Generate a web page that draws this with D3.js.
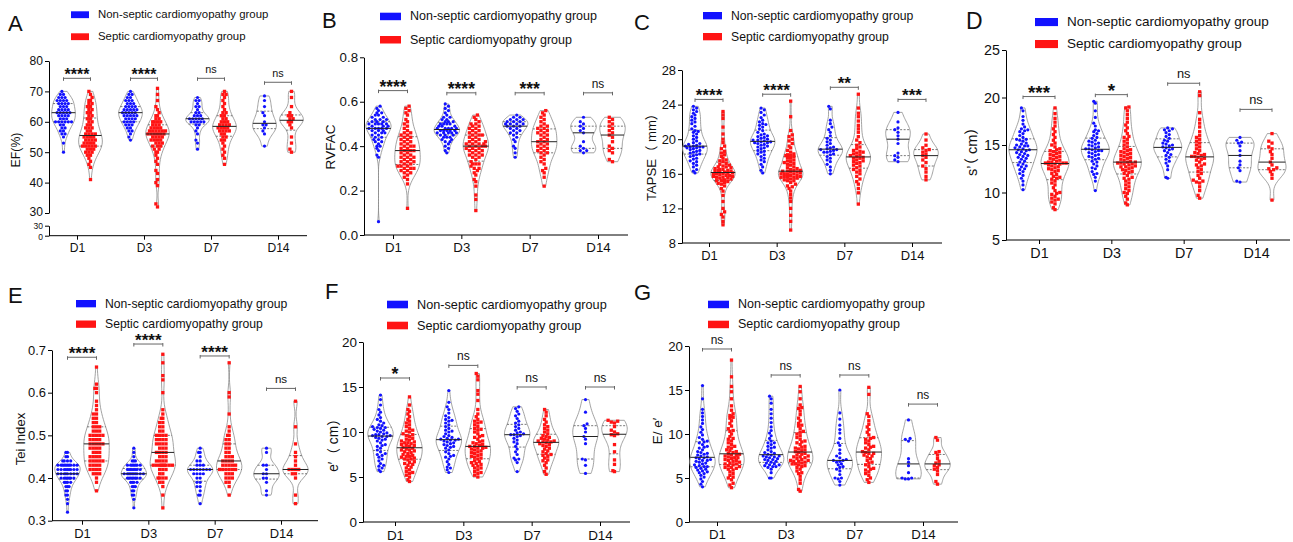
<!DOCTYPE html>
<html>
<head>
<meta charset="utf-8">
<script src="https://cdn.jsdelivr.net/npm/d3@7"></script>
<style>
  body { margin: 0; background: #fff; }
  svg { display: block; }
  text { font-family: "Liberation Sans", Arial, "Noto Sans CJK SC", sans-serif; fill: #111; }
</style>
</head>
<body>
<div id="chart"></div>
<script>
// Violin plots of echo parameters, non-septic vs septic cardiomyopathy, D1..D14

const days = ["D1", "D3", "D7", "D14"];
const groupNames = ["Non-septic cardiomyopathy group", "Septic cardiomyopathy group"];
const groupColors = ["#1212ff", "#ff1414"];

// A: EF (%)
const efNon = [
  [50, 53, 55, 56, 56, 57, 57, 58, 58, 59, 59, 60, 60, 60, 60, 60, 61, 61, 61, 62, 62, 62, 63, 63, 63, 63, 63, 64, 64, 64, 64, 65, 65, 65, 66, 66, 66, 66, 67, 67, 67, 67, 68, 68, 68, 69, 69, 70, 60, 62],
  [54, 55, 56, 57, 57, 58, 58, 59, 59, 60, 60, 60, 61, 61, 61, 61, 62, 62, 62, 62, 62, 63, 63, 63, 63, 64, 64, 64, 64, 65, 65, 65, 65, 66, 66, 66, 67, 67, 67, 68, 68, 69, 69, 70, 59, 60, 63, 64],
  [51, 53, 54, 56, 57, 58, 59, 59, 60, 60, 60, 60, 61, 61, 61, 61, 61, 62, 62, 62, 63, 63, 64, 65, 65, 66, 67, 67, 68, 60],
  [52, 56, 57, 58, 59, 59, 60, 62, 63, 65, 67, 68.5]
];
const efSep = [
  [41, 45, 46, 47, 48, 49, 49, 50, 50, 51, 51, 51, 52, 52, 52, 52, 53, 53, 53, 54, 54, 54, 55, 55, 55, 55, 56, 56, 56, 57, 57, 58, 58, 59, 59, 60, 60, 61, 61, 62, 62, 63, 63, 64, 64, 65, 65, 66, 66, 67, 67, 68, 69, 70, 52, 54, 50, 53, 56, 58],
  [32, 33, 39, 40, 41, 43, 44, 46, 47, 48, 49, 50, 50, 51, 51, 52, 52, 53, 53, 54, 54, 54, 55, 55, 55, 56, 56, 56, 56, 57, 57, 57, 57, 57, 58, 58, 58, 59, 59, 59, 60, 60, 60, 61, 61, 62, 62, 63, 64, 65, 67, 69, 71, 55, 56, 58, 54, 53, 57, 60, 52, 56],
  [46, 48, 49, 50, 51, 52, 53, 54, 54, 55, 55, 56, 56, 57, 57, 57, 58, 58, 58, 59, 59, 59, 59, 60, 60, 60, 61, 61, 62, 62, 63, 63, 64, 65, 66, 67, 68, 69, 69, 70, 58, 57],
  [50, 51, 53, 55, 58, 59, 60, 60, 61, 61, 62, 62, 63, 65, 68, 70]
];
const efSig = ["****", "****", "ns", "ns"];
const efTicks = [30, 40, 50, 60, 70, 80];

// B: RVFAC
const rvfacNon = [
  [0.06, 0.35, 0.36, 0.38, 0.39, 0.40, 0.41, 0.42, 0.42, 0.43, 0.44, 0.44, 0.45, 0.45, 0.46, 0.46, 0.46, 0.47, 0.47, 0.47, 0.48, 0.48, 0.48, 0.48, 0.49, 0.49, 0.49, 0.50, 0.50, 0.50, 0.50, 0.51, 0.51, 0.51, 0.52, 0.52, 0.52, 0.53, 0.53, 0.54, 0.54, 0.55, 0.55, 0.56, 0.57, 0.58, 0.40, 0.43, 0.48, 0.50],
  [0.37, 0.38, 0.39, 0.40, 0.41, 0.42, 0.43, 0.43, 0.44, 0.44, 0.45, 0.45, 0.45, 0.46, 0.46, 0.46, 0.46, 0.47, 0.47, 0.47, 0.47, 0.47, 0.48, 0.48, 0.48, 0.48, 0.49, 0.49, 0.49, 0.50, 0.50, 0.50, 0.51, 0.51, 0.51, 0.52, 0.52, 0.53, 0.53, 0.54, 0.55, 0.56, 0.57, 0.58, 0.59, 0.44, 0.48, 0.50, 0.46, 0.42],
  [0.35, 0.37, 0.39, 0.40, 0.42, 0.43, 0.44, 0.45, 0.46, 0.46, 0.47, 0.47, 0.48, 0.48, 0.49, 0.49, 0.49, 0.50, 0.50, 0.50, 0.51, 0.51, 0.51, 0.52, 0.52, 0.52, 0.53, 0.53, 0.54, 0.50],
  [0.37, 0.38, 0.38, 0.39, 0.40, 0.42, 0.46, 0.47, 0.48, 0.49, 0.50, 0.51, 0.53]
];
const rvfacSep = [
  [0.12, 0.23, 0.25, 0.26, 0.27, 0.28, 0.29, 0.29, 0.30, 0.30, 0.31, 0.31, 0.31, 0.32, 0.32, 0.33, 0.33, 0.34, 0.34, 0.35, 0.35, 0.36, 0.36, 0.37, 0.37, 0.38, 0.38, 0.38, 0.39, 0.39, 0.40, 0.40, 0.41, 0.41, 0.42, 0.42, 0.43, 0.43, 0.44, 0.44, 0.45, 0.45, 0.46, 0.46, 0.47, 0.48, 0.49, 0.50, 0.51, 0.52, 0.54, 0.55, 0.56, 0.57, 0.58, 0.30, 0.35, 0.40, 0.33, 0.28],
  [0.11, 0.16, 0.18, 0.22, 0.24, 0.25, 0.27, 0.28, 0.29, 0.30, 0.31, 0.32, 0.32, 0.33, 0.34, 0.35, 0.35, 0.36, 0.36, 0.37, 0.37, 0.38, 0.38, 0.39, 0.39, 0.39, 0.40, 0.40, 0.40, 0.40, 0.41, 0.41, 0.41, 0.42, 0.42, 0.43, 0.43, 0.44, 0.44, 0.45, 0.45, 0.46, 0.46, 0.47, 0.47, 0.48, 0.48, 0.49, 0.49, 0.50, 0.50, 0.51, 0.52, 0.53, 0.54, 0.32, 0.38, 0.42, 0.45, 0.41, 0.30, 0.36],
  [0.22, 0.26, 0.28, 0.29, 0.30, 0.32, 0.33, 0.34, 0.35, 0.36, 0.37, 0.37, 0.38, 0.38, 0.39, 0.39, 0.40, 0.40, 0.41, 0.41, 0.42, 0.42, 0.43, 0.43, 0.44, 0.45, 0.45, 0.46, 0.46, 0.47, 0.47, 0.48, 0.48, 0.49, 0.49, 0.50, 0.51, 0.52, 0.53, 0.54, 0.55, 0.56],
  [0.33, 0.34, 0.37, 0.38, 0.39, 0.40, 0.42, 0.44, 0.45, 0.46, 0.47, 0.48, 0.49, 0.50, 0.51, 0.52, 0.53]
];
const rvfacSig = ["****", "****", "***", "ns"];
const rvfacTicks = [0, 0.2, 0.4, 0.6, 0.8];

// C: TAPSE (mm)
const tapseNon = [
  [16.1, 16.3, 16.5, 16.8, 17.0, 17.2, 17.4, 17.5, 17.7, 17.8, 18.0, 18.1, 18.2, 18.3, 18.5, 18.6, 18.7, 18.8, 18.9, 19.0, 19.0, 19.1, 19.1, 19.2, 19.2, 19.3, 19.4, 19.5, 19.6, 19.8, 20.0, 20.2, 20.4, 20.6, 20.8, 21.0, 21.2, 21.5, 21.8, 22.0, 22.2, 22.4, 22.6, 22.8, 23.0, 23.2, 23.4, 23.6, 23.8, 18.4, 19.1, 20.9],
  [16.1, 16.4, 16.8, 17.1, 17.4, 17.6, 17.8, 18.0, 18.2, 18.3, 18.5, 18.7, 18.9, 19.0, 19.1, 19.2, 19.3, 19.4, 19.5, 19.6, 19.6, 19.7, 19.7, 19.8, 19.9, 20.0, 20.1, 20.2, 20.4, 20.5, 20.6, 20.8, 21.0, 21.2, 21.4, 21.6, 21.8, 22.0, 22.2, 22.5, 22.8, 23.1, 23.4, 23.6, 18.6, 19.9, 20.3, 21.7],
  [16.0, 16.4, 16.8, 17.1, 17.4, 17.6, 17.8, 18.0, 18.2, 18.3, 18.5, 18.6, 18.7, 18.8, 18.8, 18.9, 19.0, 19.1, 19.3, 19.5, 19.7, 19.9, 20.1, 20.4, 20.8, 21.1, 21.4, 21.8, 22.2, 23.5, 23.8, 18.5],
  [17.4, 17.6, 17.9, 18.1, 18.4, 19.5, 20.0, 20.4, 20.8, 21.1, 21.3, 22.0, 23.1]
];
const tapseSep = [
  [10.1, 10.5, 11.0, 11.3, 11.6, 12.0, 12.8, 13.5, 14.0, 14.3, 14.6, 14.8, 15.0, 15.1, 15.2, 15.3, 15.4, 15.5, 15.5, 15.6, 15.6, 15.7, 15.8, 15.8, 15.9, 16.0, 16.0, 16.1, 16.1, 16.2, 16.2, 16.3, 16.3, 16.4, 16.5, 16.5, 16.6, 16.7, 16.8, 16.9, 17.0, 17.1, 17.2, 17.4, 17.6, 17.8, 18.0, 18.2, 18.4, 18.6, 18.9, 19.2, 19.6, 20.0, 20.6, 21.4, 22.4, 22.8, 23.2, 15.7, 16.0, 16.4, 15.2, 16.8, 17.5, 14.9],
  [9.5, 10.5, 11.2, 12.0, 12.8, 13.2, 13.6, 14.0, 14.3, 14.6, 14.8, 15.0, 15.2, 15.3, 15.4, 15.5, 15.6, 15.6, 15.7, 15.7, 15.8, 15.8, 15.9, 16.0, 16.0, 16.1, 16.2, 16.2, 16.3, 16.3, 16.4, 16.5, 16.6, 16.7, 16.8, 17.0, 17.1, 17.2, 17.4, 17.5, 17.6, 17.8, 17.9, 18.0, 18.1, 18.2, 18.3, 18.5, 18.7, 19.0, 19.2, 19.5, 19.8, 20.0, 20.3, 20.5, 21.0, 22.6, 24.4, 15.6, 16.0, 16.4, 17.3, 18.1, 15.2, 14.5],
  [12.5, 13.8, 14.3, 14.8, 15.1, 15.4, 15.7, 16.0, 16.2, 16.4, 16.5, 16.7, 16.9, 17.0, 17.2, 17.4, 17.5, 17.6, 17.8, 17.8, 17.9, 18.0, 18.1, 18.2, 18.3, 18.4, 18.5, 18.7, 18.9, 19.1, 19.3, 19.6, 19.9, 20.3, 20.8, 21.2, 21.6, 22.1, 22.6, 23.0, 23.6, 25.2, 17.3, 18.6],
  [15.3, 15.7, 16.2, 16.6, 16.9, 17.3, 17.6, 17.9, 18.1, 18.3, 18.5, 18.7, 18.8, 19.0, 19.3, 19.9, 20.6]
];
const tapseSig = ["****", "****", "**", "***"];
const tapseTicks = [8, 12, 16, 20, 24, 28];

// D: s' (cm)
const sPrimeNon = [
  [10.3, 10.8, 11.2, 11.5, 11.8, 12.0, 12.2, 12.4, 12.5, 12.7, 12.9, 13.0, 13.2, 13.3, 13.5, 13.6, 13.8, 13.9, 14.0, 14.1, 14.2, 14.3, 14.4, 14.5, 14.5, 14.6, 14.7, 14.8, 14.9, 15.0, 15.1, 15.2, 15.4, 15.5, 15.6, 15.8, 16.0, 16.2, 16.4, 16.5, 16.7, 16.9, 17.2, 17.6, 18.0, 18.6, 18.9, 12.8, 13.7, 14.9, 15.6, 16.6],
  [10.2, 11.2, 11.6, 11.9, 12.2, 12.5, 12.6, 12.8, 13.0, 13.2, 13.3, 13.5, 13.6, 13.8, 13.9, 14.0, 14.1, 14.2, 14.3, 14.4, 14.5, 14.6, 14.6, 14.7, 14.8, 14.9, 15.0, 15.1, 15.2, 15.4, 15.5, 15.7, 15.8, 16.0, 16.2, 16.4, 16.6, 17.0, 17.3, 17.9, 18.6, 19.4, 19.6, 12.0, 13.7, 14.4, 15.3, 16.5],
  [11.5, 11.6, 12.4, 12.8, 13.1, 13.3, 13.5, 13.7, 13.9, 14.0, 14.2, 14.4, 14.5, 14.6, 14.7, 14.8, 14.9, 15.0, 15.1, 15.2, 15.4, 15.5, 15.7, 15.9, 16.1, 16.3, 16.5, 16.6, 16.7, 16.8],
  [11.1, 11.2, 12.3, 12.6, 12.9, 13.3, 13.9, 14.4, 14.9, 15.2, 15.3, 15.5, 15.8]
];
const sPrimeSep = [
  [8.2, 8.4, 8.8, 9.0, 9.2, 9.4, 9.6, 9.8, 9.9, 10.2, 10.5, 10.8, 11.0, 11.2, 11.4, 11.5, 11.7, 11.9, 12.0, 12.2, 12.3, 12.5, 12.6, 12.7, 12.8, 12.9, 13.0, 13.0, 13.1, 13.1, 13.2, 13.2, 13.3, 13.4, 13.5, 13.6, 13.7, 13.8, 13.9, 14.0, 14.1, 14.2, 14.3, 14.4, 14.6, 14.8, 15.0, 15.2, 15.5, 15.8, 16.1, 16.4, 16.7, 17.0, 17.4, 17.8, 18.3, 18.9, 9.3, 10.0, 13.1, 12.4, 14.5, 11.6],
  [8.7, 8.9, 9.3, 9.6, 9.9, 10.2, 10.4, 10.6, 10.8, 11.0, 11.2, 11.4, 11.6, 11.8, 12.0, 12.1, 12.3, 12.4, 12.5, 12.6, 12.7, 12.8, 12.9, 13.0, 13.1, 13.1, 13.2, 13.2, 13.3, 13.4, 13.5, 13.6, 13.7, 13.8, 13.9, 14.0, 14.1, 14.2, 14.3, 14.5, 14.6, 14.8, 15.0, 15.2, 15.4, 15.6, 15.9, 16.2, 16.5, 16.8, 17.1, 17.4, 17.8, 18.2, 18.6, 18.9, 19.0, 10.0, 11.5, 12.2, 13.0, 14.4, 15.8, 12.7],
  [9.4, 9.7, 10.2, 10.6, 11.0, 11.2, 11.3, 11.5, 11.8, 12.0, 12.2, 12.4, 12.6, 12.8, 12.9, 13.0, 13.2, 13.4, 13.5, 13.6, 13.7, 13.8, 13.8, 13.9, 14.0, 14.2, 14.4, 14.6, 14.8, 15.0, 15.2, 15.4, 15.6, 15.8, 16.0, 16.4, 16.9, 17.3, 17.7, 18.4, 20.2, 20.6, 11.1, 14.1],
  [9.2, 11.5, 11.9, 12.2, 12.4, 12.5, 12.6, 12.9, 13.2, 13.6, 14.0, 14.3, 14.6, 14.8, 15.2, 15.4, 16.2]
];
const sPrimeSig = ["***", "*", "ns", "ns"];
const sPrimeTicks = [5, 10, 15, 20, 25];

// E: Tei index
const teiNon = [
  [0.32, 0.34, 0.35, 0.36, 0.37, 0.37, 0.38, 0.38, 0.39, 0.39, 0.39, 0.40, 0.40, 0.40, 0.40, 0.40, 0.41, 0.41, 0.41, 0.41, 0.41, 0.41, 0.42, 0.42, 0.42, 0.42, 0.42, 0.42, 0.42, 0.43, 0.43, 0.43, 0.43, 0.43, 0.43, 0.43, 0.43, 0.43, 0.44, 0.44, 0.44, 0.45, 0.45, 0.46, 0.46, 0.38, 0.39, 0.40, 0.41, 0.42, 0.43, 0.40, 0.36, 0.41, 0.42, 0.44],
  [0.33, 0.35, 0.36, 0.37, 0.37, 0.38, 0.38, 0.39, 0.39, 0.39, 0.40, 0.40, 0.40, 0.40, 0.40, 0.40, 0.41, 0.41, 0.41, 0.41, 0.41, 0.41, 0.41, 0.41, 0.42, 0.42, 0.42, 0.42, 0.42, 0.42, 0.43, 0.43, 0.43, 0.43, 0.43, 0.43, 0.44, 0.44, 0.44, 0.45, 0.46, 0.47, 0.39, 0.40, 0.41, 0.42, 0.40, 0.38, 0.43, 0.41, 0.36, 0.42],
  [0.34, 0.36, 0.36, 0.37, 0.38, 0.38, 0.39, 0.39, 0.40, 0.40, 0.41, 0.41, 0.41, 0.42, 0.42, 0.42, 0.42, 0.42, 0.42, 0.42, 0.43, 0.43, 0.43, 0.44, 0.44, 0.45, 0.46, 0.46, 0.47, 0.41],
  [0.36, 0.37, 0.39, 0.40, 0.40, 0.41, 0.41, 0.42, 0.43, 0.43, 0.46, 0.47]
];
const teiSep = [
  [0.37, 0.39, 0.40, 0.41, 0.41, 0.41, 0.42, 0.42, 0.42, 0.43, 0.43, 0.43, 0.44, 0.44, 0.44, 0.44, 0.45, 0.45, 0.45, 0.46, 0.46, 0.46, 0.47, 0.47, 0.47, 0.48, 0.48, 0.48, 0.48, 0.49, 0.49, 0.49, 0.49, 0.50, 0.50, 0.50, 0.50, 0.51, 0.51, 0.51, 0.52, 0.52, 0.52, 0.53, 0.53, 0.54, 0.54, 0.55, 0.55, 0.56, 0.57, 0.58, 0.60, 0.61, 0.61, 0.62, 0.66, 0.43, 0.45, 0.47, 0.50, 0.42, 0.44, 0.48],
  [0.33, 0.36, 0.38, 0.39, 0.39, 0.40, 0.40, 0.40, 0.41, 0.41, 0.42, 0.42, 0.43, 0.43, 0.43, 0.43, 0.43, 0.43, 0.43, 0.44, 0.44, 0.44, 0.45, 0.45, 0.45, 0.46, 0.46, 0.46, 0.47, 0.47, 0.47, 0.48, 0.48, 0.48, 0.49, 0.49, 0.49, 0.49, 0.50, 0.50, 0.50, 0.51, 0.51, 0.52, 0.52, 0.53, 0.53, 0.54, 0.54, 0.55, 0.56, 0.60, 0.63, 0.64, 0.67, 0.69, 0.43, 0.43, 0.48, 0.46, 0.40, 0.44, 0.50, 0.42],
  [0.36, 0.38, 0.39, 0.39, 0.40, 0.40, 0.40, 0.41, 0.41, 0.41, 0.42, 0.42, 0.42, 0.42, 0.42, 0.43, 0.43, 0.43, 0.43, 0.44, 0.44, 0.44, 0.45, 0.45, 0.45, 0.46, 0.46, 0.47, 0.47, 0.48, 0.48, 0.49, 0.49, 0.50, 0.50, 0.51, 0.52, 0.55, 0.59, 0.60, 0.67, 0.42, 0.43, 0.44],
  [0.34, 0.36, 0.40, 0.41, 0.41, 0.42, 0.42, 0.42, 0.42, 0.43, 0.44, 0.45, 0.46, 0.48, 0.52, 0.58]
];
const teiSig = ["****", "****", "****", "ns"];
const teiTicks = [0.3, 0.4, 0.5, 0.6, 0.7];

// F: e' (cm)
const ePrimeNon = [
  [5.6, 5.8, 6.0, 6.2, 6.5, 6.8, 7.0, 7.2, 7.4, 7.6, 7.8, 8.0, 8.2, 8.4, 8.6, 8.8, 9.0, 9.1, 9.2, 9.3, 9.4, 9.5, 9.6, 9.6, 9.7, 9.7, 9.8, 9.9, 10.0, 10.1, 10.2, 10.3, 10.4, 10.5, 10.6, 10.7, 10.8, 11.0, 11.2, 11.4, 11.6, 11.9, 12.2, 12.5, 13.0, 13.6, 14.1, 7.5, 8.5, 9.5, 10.5, 6.3],
  [5.5, 5.8, 6.1, 6.4, 6.7, 7.0, 7.2, 7.4, 7.6, 7.8, 8.0, 8.2, 8.4, 8.5, 8.6, 8.7, 8.8, 8.9, 9.0, 9.1, 9.1, 9.2, 9.3, 9.4, 9.5, 9.6, 9.8, 10.0, 10.2, 10.4, 10.6, 10.8, 11.0, 11.2, 11.4, 11.6, 11.8, 12.1, 12.5, 12.8, 13.3, 14.6, 7.3, 8.3, 9.2, 10.1, 11.3, 6.0],
  [5.6, 6.6, 6.9, 7.1, 7.5, 7.8, 8.1, 8.4, 8.7, 8.9, 9.1, 9.3, 9.5, 9.6, 9.7, 9.7, 9.8, 9.9, 10.0, 10.2, 10.4, 10.6, 10.8, 11.0, 11.2, 11.5, 11.8, 12.0, 12.3, 12.6, 12.8, 7.0],
  [5.4, 6.3, 6.9, 7.0, 8.7, 9.2, 9.5, 10.0, 10.4, 10.7, 10.9, 12.2, 13.6]
];
const ePrimeSep = [
  [4.5, 4.7, 5.0, 5.2, 5.4, 5.6, 5.8, 6.0, 6.1, 6.3, 6.4, 6.6, 6.7, 6.9, 7.0, 7.1, 7.2, 7.3, 7.4, 7.5, 7.6, 7.7, 7.8, 7.9, 8.0, 8.0, 8.1, 8.2, 8.3, 8.4, 8.5, 8.6, 8.7, 8.8, 8.9, 9.0, 9.1, 9.2, 9.3, 9.5, 9.6, 9.8, 10.0, 10.2, 10.4, 10.6, 10.8, 11.0, 11.2, 11.4, 11.7, 12.0, 12.3, 12.5, 13.0, 13.9, 7.3, 8.5, 9.7, 6.5, 5.5, 10.1, 7.0, 8.8],
  [5.0, 5.2, 5.4, 5.6, 5.8, 6.0, 6.0, 6.2, 6.4, 6.5, 6.7, 6.8, 7.0, 7.1, 7.2, 7.4, 7.5, 7.6, 7.8, 7.9, 8.0, 8.1, 8.2, 8.3, 8.4, 8.4, 8.5, 8.6, 8.8, 8.9, 9.0, 9.2, 9.4, 9.6, 9.8, 10.0, 10.2, 10.4, 10.6, 10.8, 11.0, 11.2, 11.4, 11.7, 12.0, 12.5, 13.5, 14.2, 14.6, 15.8, 16.2, 16.5, 6.3, 7.3, 8.7, 9.5, 10.3, 11.1, 5.5, 6.6, 7.7, 8.2],
  [5.3, 5.6, 6.0, 6.3, 6.6, 6.9, 7.1, 7.3, 7.5, 7.6, 7.8, 7.9, 8.1, 8.2, 8.4, 8.5, 8.6, 8.7, 8.8, 8.9, 8.9, 9.0, 9.1, 9.2, 9.3, 9.4, 9.5, 9.6, 9.8, 10.0, 10.2, 10.4, 10.6, 10.8, 11.1, 11.4, 11.8, 12.2, 12.5, 6.8, 9.0, 7.4],
  [5.6, 5.7, 6.4, 6.9, 7.8, 8.6, 9.6, 9.7, 9.8, 10.0, 10.2, 10.6, 11.0, 11.1, 11.2, 11.3]
];
const ePrimeSig = ["*", "ns", "ns", "ns"];
const ePrimeTicks = [0, 5, 10, 15, 20];

// G: E/e'
const eeNon = [
  [4.0, 4.3, 4.6, 4.9, 5.1, 5.3, 5.5, 5.6, 5.8, 5.9, 6.0, 6.1, 6.2, 6.3, 6.4, 6.5, 6.6, 6.7, 6.8, 6.9, 7.0, 7.1, 7.2, 7.3, 7.3, 7.4, 7.5, 7.6, 7.7, 7.8, 7.9, 8.0, 8.2, 8.4, 8.6, 8.8, 9.0, 9.2, 9.4, 9.6, 9.9, 10.2, 10.5, 10.8, 11.2, 11.6, 12.0, 12.4, 12.8, 14.0, 15.5, 6.3, 7.0, 8.5, 5.7, 9.1],
  [5.0, 5.0, 5.6, 6.0, 6.2, 6.3, 6.4, 6.5, 6.6, 6.7, 6.8, 6.9, 7.0, 7.1, 7.2, 7.3, 7.4, 7.4, 7.5, 7.6, 7.7, 7.8, 7.9, 8.0, 8.2, 8.4, 8.6, 8.8, 9.0, 9.2, 9.5, 9.8, 10.1, 10.4, 10.8, 11.3, 11.8, 12.3, 12.8, 13.5, 14.0, 14.3, 6.5, 7.1, 8.5, 9.0, 6.3, 7.5],
  [4.2, 4.6, 4.9, 5.0, 5.0, 5.4, 5.8, 6.0, 6.3, 6.5, 6.6, 6.8, 6.9, 7.0, 7.0, 7.1, 7.3, 7.5, 7.8, 8.2, 8.7, 9.0, 9.5, 10.1, 10.5, 11.0, 11.7, 12.4, 15.0, 6.2],
  [4.9, 4.9, 5.0, 5.0, 5.6, 6.4, 6.8, 7.2, 9.2, 9.4, 9.5, 11.6]
];
const eeSep = [
  [3.9, 4.2, 4.4, 4.8, 5.1, 5.3, 5.5, 5.7, 5.9, 6.0, 6.1, 6.2, 6.3, 6.4, 6.5, 6.6, 6.7, 6.8, 6.9, 7.0, 7.0, 7.1, 7.2, 7.3, 7.4, 7.5, 7.6, 7.7, 7.8, 7.9, 8.0, 8.2, 8.4, 8.6, 8.8, 9.0, 9.2, 9.4, 9.7, 10.0, 10.3, 10.6, 10.9, 11.2, 11.5, 11.8, 12.0, 12.3, 12.7, 13.2, 14.0, 14.8, 15.4, 16.5, 18.4, 6.2, 7.3, 8.1, 9.5, 11.9, 5.0, 6.6, 7.6, 8.5, 10.4, 12.1],
  [3.5, 3.7, 4.4, 4.8, 5.2, 5.5, 5.8, 6.0, 6.2, 6.4, 6.5, 6.6, 6.7, 6.8, 6.9, 7.0, 7.1, 7.2, 7.3, 7.4, 7.5, 7.6, 7.7, 7.8, 7.9, 8.0, 8.1, 8.2, 8.4, 8.5, 8.6, 8.8, 9.0, 9.2, 9.4, 9.6, 9.8, 10.0, 10.3, 10.6, 10.9, 11.2, 11.5, 11.8, 12.2, 12.6, 13.0, 13.3, 14.0, 14.8, 15.4, 6.3, 6.9, 7.4, 8.3, 9.1, 10.2, 11.0, 12.9, 7.0, 6.6, 5.6],
  [4.5, 4.8, 5.0, 5.3, 5.5, 5.7, 5.9, 6.1, 6.3, 6.5, 6.7, 6.8, 7.0, 7.2, 7.4, 7.5, 7.6, 7.8, 7.8, 7.9, 8.0, 8.2, 8.4, 8.6, 8.8, 9.0, 9.2, 9.4, 9.6, 9.9, 10.2, 10.5, 10.8, 11.1, 11.5, 12.0, 12.3, 14.5, 15.3, 6.0, 8.5, 9.5],
  [4.3, 4.6, 5.4, 5.8, 6.0, 6.2, 6.4, 6.5, 6.7, 6.9, 7.2, 7.6, 7.9, 8.0, 9.3, 9.6]
];
const eeSig = ["ns", "ns", "ns", "ns"];
const eeTicks = [0, 5, 10, 15, 20];

// layout of the seven panels (pixels); sigAt = bracket height in data units
const panels = [
  { letter: "A", lx: 8, ly: 31, label: "EF(%)", labX: 20, labY: 150, non: efNon, sep: efSep, sig: efSig, ticks: efTicks, fmt: "d",
    domain: [30, 80], ax: 49, ax1: 307, yT: 61, yB: 213, broken: [225.7, 235.7], c1: 77, c4: 278, off: 13.5,
    sigAt: [74.3, 74.3, 74.3, 73], legX: 71, legTX: 98, legY: [11.3, 33.3], fs: 11.4 },
  { letter: "B", lx: 322, ly: 28, label: "RVFAC", labX: 335, labY: 147, non: rvfacNon, sep: rvfacSep, sig: rvfacSig, ticks: rvfacTicks, fmt: ".1f",
    domain: [0, 0.8], ax: 364, ax1: 628, yT: 57.3, yB: 235, c1: 393, c4: 598, off: 14.5,
    sigAt: [0.65, 0.64, 0.64, 0.64], legX: 380, legTX: 410, legY: [12.7, 36], fs: 12.5 },
  { letter: "C", lx: 634, ly: 30, label: "TAPSE（ mm）", labX: 656, labY: 154, non: tapseNon, sep: tapseSep, sig: tapseSig, ticks: tapseTicks, fmt: "d",
    domain: [8, 28], ax: 682, ax1: 942, yT: 70, yB: 243, c1: 709, c4: 912, off: 14,
    sigAt: [24.6, 25.2, 26, 24.6], legX: 703, legTX: 731, legY: [12, 33], fs: 12.2 },
  { letter: "D", lx: 966, ly: 29, label: "s’（ cm）", labX: 977, labY: 148, non: sPrimeNon, sep: sPrimeSep, sig: sPrimeSig, ticks: sPrimeTicks, fmt: "d",
    domain: [5, 25], ax: 1006, ax1: 1290, yT: 50, yB: 240, c1: 1039, c4: 1256, off: 16,
    sigAt: [20.1, 20.3, 21.5, 18.75], legX: 1035, legTX: 1067, legY: [18, 40], fs: 13.5 },
  { letter: "E", lx: 8, ly: 303, label: "Tei Index", labX: 25, labY: 439, non: teiNon, sep: teiSep, sig: teiSig, ticks: teiTicks, fmt: ".1f",
    domain: [0.3, 0.7], ax: 52, ax1: 318, yT: 350, yB: 520.7, c1: 82, c4: 281, off: 14.5,
    sigAt: [0.683, 0.714, 0.686, 0.61], legX: 76, legTX: 105, legY: [300, 320.5], fs: 12.2 },
  { letter: "F", lx: 325, ly: 299, label: "e′（ cm）", labX: 338, labY: 442, non: ePrimeNon, sep: ePrimeSep, sig: ePrimeSig, ticks: ePrimeTicks, fmt: "d",
    domain: [0, 20], ax: 363, ax1: 630, yT: 342, yB: 522, c1: 395, c4: 600, off: 14.5,
    sigAt: [16, 17.4, 15, 15], legX: 387, legTX: 417, legY: [300.7, 321.7], fs: 12.7 },
  { letter: "G", lx: 634, ly: 300, label: "E/ e′", labX: 662, labY: 431, non: eeNon, sep: eeSep, sig: eeSig, ticks: eeTicks, fmt: "d",
    domain: [0, 20], ax: 689, ax1: 958, yT: 346, yB: 522, c1: 717, c4: 923, off: 14.5,
    sigAt: [19.66, 16.7, 16.7, 13.4], legX: 708, legTX: 738, legY: [300.7, 320.7], fs: 12.5 }
];

const svg = d3.select("#chart").append("svg")
  .attr("width", 1293)
  .attr("height", 542);

svg.append("rect").attr("width", 1293).attr("height", 542).attr("fill", "#fff");

function styleAxis(sel, size) {
  sel.attr("font-size", size).attr("font-family", null);
  sel.selectAll("path, line").attr("stroke", "#000").attr("stroke-width", 1);
  sel.selectAll("text").attr("fill", "#111");
}

// beeswarm kept inside the violin: each point takes the free slot closest
// to the centre line; if none fits, the least crowded slot
function swarm(sorted, y, d, limit) {
  const placed = [];
  sorted.forEach(v => {
    const py = y(v);
    const lim = Math.max(limit(v) - d * 0.6, d * 0.5);
    let best = 0, bestScore = -1;
    for (let j = 0; j < 200; j++) {
      const dx = (j % 2 ? -1 : 1) * Math.ceil(j / 2) * d / 2;
      if (Math.abs(dx) > lim) break;
      const minD2 = placed.length ? d3.min(placed, q => (q.dx - dx) ** 2 + (q.py - py) ** 2) : Infinity;
      if (minD2 >= d * d * 0.92) { best = dx; break; }
      if (minD2 > bestScore) { bestScore = minD2; best = dx; }
    }
    placed.push({ dx: best, py });
  });
  return placed;
}

function drawViolin(g, vals, cx, y, hw, k) {
  const s = vals.slice().sort(d3.ascending);
  const n = s.length, lo = s[0], hi = s[n - 1];
  const sd = d3.deviation(s);
  const iqr = d3.quantile(s, 0.75) - d3.quantile(s, 0.25);
  const h = 0.85 * Math.min(sd, iqr / 1.34 || sd) * Math.pow(n, -0.2);
  const dens = v => d3.mean(s, t => Math.exp(-0.5 * ((v - t) / h) ** 2));
  const grid = d3.range(41).map(j => lo + (hi - lo) * j / 40);
  const maxD = d3.max(grid, dens);
  const wAt = v => hw * dens(v) / maxD;

  const area = d3.area()
    .curve(d3.curveBasis)
    .y(v => y(v))
    .x0(v => cx - wAt(v))
    .x1(v => cx + wAt(v));

  g.append("path")
    .attr("d", area(grid))
    .attr("fill", "#fff")
    .attr("stroke", "#8c8c8c")
    .attr("stroke-width", 0.8);

  // quartiles (dotted)
  [0.25, 0.75].forEach(q => {
    const v = d3.quantile(s, q);
    g.append("line")
      .attr("x1", cx - wAt(v)).attr("x2", cx + wAt(v))
      .attr("y1", y(v)).attr("y2", y(v))
      .attr("stroke", "#555")
      .attr("stroke-width", 0.8)
      .attr("stroke-dasharray", "2,1.5");
  });

  // points
  const dot = 3.2;
  const pts = swarm(s, y, dot, wAt);
  if (k === 0) {
    g.append("g").selectAll("circle").data(pts).join("circle")
      .attr("cx", p => cx + p.dx)
      .attr("cy", p => p.py)
      .attr("r", 1.6)
      .attr("fill", groupColors[0]);
  } else {
    g.append("g").selectAll("rect").data(pts).join("rect")
      .attr("x", p => cx + p.dx - 1.65)
      .attr("y", p => p.py - 1.65)
      .attr("width", 3.3)
      .attr("height", 3.3)
      .attr("fill", groupColors[1]);
  }

  // median
  const med = d3.quantile(s, 0.5);
  g.append("line")
    .attr("x1", cx - wAt(med)).attr("x2", cx + wAt(med))
    .attr("y1", y(med)).attr("y2", y(med))
    .attr("stroke", "#222")
    .attr("stroke-width", 1);
}

function drawPanel(p) {
  const g = svg.append("g");
  const x = d3.scalePoint().domain(days).range([p.c1, p.c4]);
  const y = d3.scaleLinear().domain(p.domain).range([p.yB, p.yT]);
  const axisY = p.broken ? p.broken[1] : p.yB;
  const tf = p.fs * 1.06;

  // y axis
  const ya = g.append("g")
    .attr("transform", `translate(${p.ax},0)`)
    .call(d3.axisLeft(y).tickValues(p.ticks).tickFormat(d3.format(p.fmt))
      .tickSize(4).tickPadding(2).tickSizeOuter(0));
  styleAxis(ya, tf);

  if (p.broken) {
    // broken EF axis: a short 0-30 segment under the main one
    ya.selectAll(".tick text").filter(t => t === 30).attr("dy", "0.2em");
    const yb = d3.scaleLinear().domain([0, 30]).range([p.broken[1], p.broken[0]]);
    const yba = g.append("g")
      .attr("transform", `translate(${p.ax},0)`)
      .call(d3.axisLeft(yb).tickValues([0, 30]).tickSize(4).tickPadding(2).tickSizeOuter(0));
    styleAxis(yba, 8.5);
    yba.selectAll(".tick text").attr("dy", t => t === 30 ? "0.38em" : "0.5em");
  }

  // x axis
  const xa = g.append("g")
    .attr("transform", `translate(0,${axisY})`)
    .call(d3.axisBottom(x).tickSize(4).tickPadding(4).tickSizeOuter(0));
  xa.select(".domain").remove();
  styleAxis(xa, tf);
  g.append("line")
    .attr("x1", p.ax).attr("x2", p.ax1)
    .attr("y1", axisY).attr("y2", axisY)
    .attr("stroke", "#000");

  // violins + brackets
  days.forEach((day, i) => {
    [p.non[i], p.sep[i]].forEach((vals, k) => {
      const cx = x(day) + (k ? p.off : -p.off);
      drawViolin(g, vals, cx, y, p.off * 0.88, k);
    });

    const by = y(p.sigAt[i]);
    const bx0 = x(day) - p.off, bx1 = x(day) + p.off;
    g.append("path")
      .attr("d", `M${bx0},${by + 2.5}V${by - 1}M${bx0},${by}H${bx1}M${bx1},${by + 2.5}V${by - 1}`)
      .attr("fill", "none")
      .attr("stroke", "#666")
      .attr("stroke-width", 1);

    const isNs = p.sig[i] === "ns";
    g.append("text")
      .attr("x", x(day))
      .attr("y", isNs ? by - 5 : by + 2)
      .attr("text-anchor", "middle")
      .attr("font-size", isNs ? p.fs * 0.95 : p.fs * 1.4)
      .attr("font-weight", isNs ? "normal" : "bold")
      .text(p.sig[i]);
  });

  // y label
  g.append("text")
    .attr("transform", `translate(${p.labX},${p.labY}) rotate(-90)`)
    .attr("text-anchor", "middle")
    .attr("font-size", p.fs * 1.08)
    .text(p.label);

  // panel letter
  g.append("text")
    .attr("x", p.lx)
    .attr("y", p.ly)
    .attr("font-size", p.letter === "D" ? 23 : 22)
    .text(p.letter);

  // legend
  groupNames.forEach((name, k) => {
    g.append("rect")
      .attr("x", p.legX)
      .attr("y", p.legY[k])
      .attr("width", p.legTX - p.legX - 9)
      .attr("height", p.fs * 0.6)
      .attr("fill", groupColors[k]);
    g.append("text")
      .attr("x", p.legTX)
      .attr("y", p.legY[k] + p.fs * 0.62)
      .attr("font-size", p.fs)
      .text(name);
  });
}

panels.forEach(drawPanel);
</script>
</body>
</html>
